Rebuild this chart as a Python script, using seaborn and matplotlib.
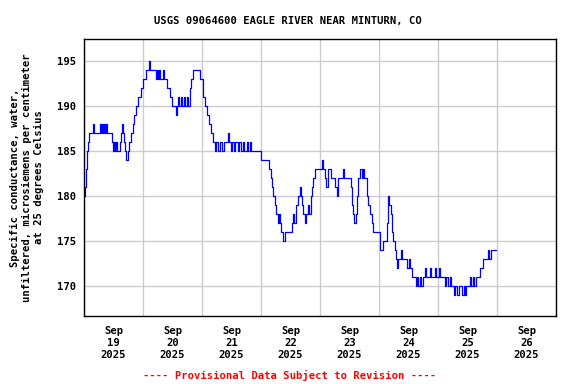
import numpy as np
import pandas as pd
import matplotlib
matplotlib.use("Agg")
import matplotlib.pyplot as plt
import seaborn as sns

# Hours since Sep 19 2025 00:00 where the reading changes, and the new value
hours = [0.0, 0.4, 0.8, 1.2, 1.6, 2.0, 3.7, 4.1, 6.5, 6.9, 7.3, 7.7, 8.1, 8.5, 8.9, 9.4,
         11.4, 11.8, 12.2, 12.6, 13.0, 13.4, 14.6, 15.1, 15.5, 15.9, 16.3, 16.7, 17.1, 17.9,
         18.3, 19.1, 19.9, 20.3, 21.2, 22.0, 23.2, 24.0, 25.2, 26.4, 26.8, 29.3, 29.7, 30.1,
         30.5, 30.9, 32.1, 32.5, 33.8, 35.0, 35.8, 37.4, 37.8, 38.2, 38.6, 39.5, 39.9, 40.7,
         41.1, 41.9, 42.3, 43.1, 43.5, 44.3, 47.2, 48.4, 49.2, 50.0, 50.9, 51.7, 52.5, 53.3,
         53.7, 54.5, 55.3, 56.1, 57.0, 58.6, 59.0, 59.8, 60.2, 61.0, 61.4, 62.6, 63.1, 63.9,
         64.7, 65.1, 66.3, 66.7, 67.5, 67.9, 72.0, 75.3, 76.1, 76.5, 76.9, 77.7, 78.1, 78.9,
         79.3, 79.7, 80.1, 81.0, 81.8, 84.6, 85.0, 85.4, 86.2, 87.1, 87.9, 88.3, 88.7, 89.1,
         89.9, 90.3, 91.1, 91.5, 92.3, 92.7, 93.2, 94.0, 96.8, 97.2, 98.0, 98.4, 99.3, 100.5,
         102.1, 102.9, 103.3, 105.4, 105.8, 108.6, 109.0, 109.4, 109.8, 110.6, 111.1, 111.5,
         112.3, 113.1, 113.5, 113.9, 115.1, 115.5, 116.3, 117.2, 117.6, 120.4, 121.6, 123.3,
         123.7, 124.1, 124.9, 125.3, 125.7, 126.5, 126.9, 127.3, 127.7, 129.0, 129.4, 131.4,
         132.2, 132.6, 133.4, 135.1, 135.5, 135.9, 136.7, 137.1, 137.9, 138.7, 139.1, 140.8,
         141.2, 142.8, 143.2, 144.4, 144.8, 146.9, 147.3, 148.1, 148.9, 149.3, 150.5, 150.9,
         151.7, 152.6, 153.8, 154.6, 155.0, 155.4, 157.0, 157.4, 158.2, 158.7, 159.5, 161.1,
         162.3, 164.3, 164.8, 165.6, 167.75]
conductance = [180, 181, 183, 185, 186, 187, 188, 187, 188, 187, 188, 187, 188, 187, 188, 187,
               186, 185, 186, 185, 186, 185, 186, 187, 188, 187, 186, 185, 184, 185,
               186, 187, 188, 189, 190, 191, 192, 193, 194, 195, 194, 193, 194, 193,
               194, 193, 194, 193, 192, 191, 190, 189, 190, 191, 190, 191, 190, 191,
               190, 191, 190, 192, 193, 194, 193, 191, 190, 189, 188, 187, 186, 185,
               186, 185, 186, 185, 186, 187, 186, 185, 186, 185, 186, 185, 186, 185,
               186, 185, 186, 185, 186, 185, 184, 183, 182, 181, 180, 179, 178, 177,
               178, 177, 176, 175, 176, 177, 178, 177, 179, 180, 181, 180, 179, 178,
               177, 178, 179, 178, 180, 181, 182, 183, 184, 183, 182, 181, 183, 182,
               181, 180, 182, 183, 182, 181, 179, 178, 177, 178, 180, 182,
               183, 182, 183, 182, 180, 179, 178, 177, 176, 174, 175, 177,
               180, 179, 178, 176, 175, 174, 173, 172, 173, 174, 173, 172,
               173, 172, 171, 170, 171, 170, 171, 170, 171, 172, 171, 172,
               171, 172, 171, 172, 171, 170, 171, 170, 171, 170, 169, 170,
               169, 170, 169, 170, 169, 170, 171, 170, 171, 170, 171, 172,
               173, 174, 173, 174, 174]

day_labels = ["Sep\n19\n2025", "Sep\n20\n2025", "Sep\n21\n2025", "Sep\n22\n2025",
              "Sep\n23\n2025", "Sep\n24\n2025", "Sep\n25\n2025", "Sep\n26\n2025"]
y_ticks = [170, 175, 180, 185, 190, 195]

df = pd.DataFrame({"hours": hours, "value": conductance})

sns.set_style("whitegrid")
plt.rcParams["font.family"] = ["DejaVu Sans Mono"]
plt.rcParams["font.weight"] = "bold"
plt.rcParams["text.color"] = "black"
plt.rcParams["axes.labelcolor"] = "black"
plt.rcParams["xtick.color"] = "black"
plt.rcParams["ytick.color"] = "black"

fig = plt.figure(figsize=(5.76, 3.84), dpi=100)
ax = fig.add_axes([0.1458, 0.1771, 0.8194, 0.7213])

sns.lineplot(data=df, x="hours", y="value", ax=ax, color="#0000ff",
             linewidth=0.9, drawstyle="steps-post", estimator=None)

ax.set_xlim(0, 192)
ax.set_ylim(166.67, 197.44)

# gridlines at midnight, labels at noon
ax.set_xticks(np.arange(0, 193, 24))
ax.set_xticklabels([])
ax.set_xticks(np.arange(12, 192, 24), minor=True)
ax.set_xticklabels(day_labels, minor=True, fontsize=7.6, fontweight="bold",
                   linespacing=1.25)
ax.set_yticks(y_ticks)
ax.set_yticklabels([str(v) for v in y_ticks], fontsize=7.6, fontweight="bold")
ax.tick_params(which="both", length=0, colors="black")
ax.tick_params(axis="x", which="minor", pad=7)
ax.tick_params(axis="y", pad=6)

ax.grid(True, which="major", color="#cccccc", linewidth=1.0)
ax.grid(False, which="minor")
for s in ax.spines.values():
    s.set_color("black")
    s.set_linewidth(1.0)

ax.set_xlabel("")
ax.set_ylabel("Specific conductance, water,\nunfiltered, microsiemens per centimeter\nat 25 degrees Celsius",
              fontsize=7.6, fontweight="bold", linespacing=1.25, labelpad=9, color="black")

fig.text(0.5, 0.945, "USGS 09064600 EAGLE RIVER NEAR MINTURN, CO", fontsize=7.6,
         fontweight="bold", ha="center", va="center", color="black")
fig.text(0.503, 0.023, "---- Provisional Data Subject to Revision ----",
         color="#ff0000", fontsize=7.6, fontweight="bold", ha="center", va="center")

plt.savefig("out.png", dpi=100)
plt.close()
